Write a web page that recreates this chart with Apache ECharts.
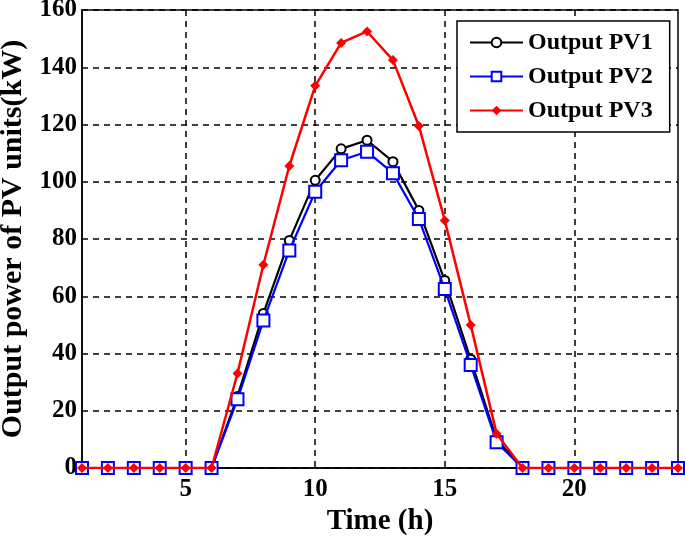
<!DOCTYPE html>
<html>
<head>
<meta charset="utf-8">
<script src="https://cdn.jsdelivr.net/npm/echarts@6/dist/echarts.min.js"></script>
<style>html,body{margin:0;padding:0;background:#fff;}#c{width:685px;height:538px;}</style>
</head>
<body>
<div id="c"></div>
<script>
var hours = ['1','2','3','4','5','6','7','8','9','10','11','12','13','14','15','16','17','18','19','20','21','22','23','24'];
var xTickLabels = ['5','10','15','20'];
var pv1 = [0,0,0,0,0,0,25,54,79.5,100.5,111.5,114.5,107,90,65.5,38,10,0,0,0,0,0,0,0];
var pv2 = [0,0,0,0,0,0,24,51.5,76,96.5,107.5,110.5,103,87,62.5,36,9,0,0,0,0,0,0,0];
var pv3 = [0,0,0,0,0,0,33,71,105.5,133.5,148.5,152.5,142.5,119.5,86.5,50,12,0,0,0,0,0,0,0];

var FONT = 'Liberation Serif';
var chart = echarts.init(document.getElementById('c'), null, {renderer: 'canvas'});
function showTick(idx, val) { return xTickLabels.indexOf(String(hours[idx])) >= 0; }
chart.setOption({
  animation: false,
  backgroundColor: '#fff',
  grid: {left: 82, right: 7, top: 10, bottom: 70, show: true, borderColor: '#000', borderWidth: 1.5,
         backgroundColor: 'transparent', containLabel: false, outerBoundsMode: 'none'},
  legend: {
    orient: 'vertical', left: 457, top: 21, width: 190,
    padding: [9, 17, 9, 12],
    backgroundColor: '#fff', borderColor: '#000', borderWidth: 1.5,
    itemWidth: 53, itemHeight: 12, itemGap: 9,
    textStyle: {fontFamily: FONT, fontWeight: 'bold', fontSize: 24, color: '#000', lineHeight: 25},
    data: ['Output PV1', 'Output PV2', 'Output PV3']
  },
  xAxis: {
    type: 'category', data: hours, boundaryGap: false,
    name: 'Time (h)', nameLocation: 'middle', nameGap: 38,
    nameTextStyle: {fontFamily: FONT, fontWeight: 'bold', fontSize: 29, color: '#000'},
    axisLine: {show: true, lineStyle: {color: '#000', width: 1.5}},
    axisTick: {show: false},
    axisLabel: {interval: showTick, margin: 9, fontFamily: FONT, fontWeight: 'bold', fontSize: 25, color: '#000'},
    splitLine: {show: true, interval: showTick, lineStyle: {color: '#000', type: [6, 5], width: 1.5}}
  },
  yAxis: {
    type: 'value', min: 0, max: 160, interval: 20,
    name: 'Output power of PV units(kW)', nameLocation: 'middle', nameGap: 52, nameRotate: 90,
    nameTextStyle: {fontFamily: FONT, fontWeight: 'bold', fontSize: 30, color: '#000'},
    axisLine: {show: true, lineStyle: {color: '#000', width: 1.5}},
    axisTick: {show: false},
    axisLabel: {margin: 5, fontFamily: FONT, fontWeight: 'bold', fontSize: 25, color: '#000'},
    splitLine: {show: true, lineStyle: {color: '#000', type: [6, 5], width: 1.5}}
  },
  series: [
    {name: 'Output PV1', type: 'line', data: pv1, symbol: 'emptyCircle', symbolSize: 9,
     lineStyle: {color: '#000', width: 2.2}, itemStyle: {color: '#000', borderWidth: 2}, z: 2},
    {name: 'Output PV2', type: 'line', data: pv2, symbol: 'emptyRect', symbolSize: 12,
     lineStyle: {color: '#0000ff', width: 2.2}, itemStyle: {color: '#0000ff', borderWidth: 2.5}, z: 3},
    {name: 'Output PV3', type: 'line', data: pv3, symbol: 'diamond', symbolSize: 10,
     lineStyle: {color: '#ff0000', width: 2.5}, itemStyle: {color: '#ff0000'}, z: 4}
  ]
});
</script>
</body>
</html>
